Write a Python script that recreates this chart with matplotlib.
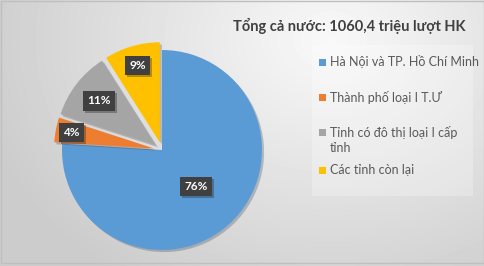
import matplotlib

matplotlib.use("Agg")
import matplotlib.pyplot as plt
import matplotlib.patheffects as pe
import numpy as np
from matplotlib.patches import Rectangle

# Data
categories = [
    "Hà Nội và TP. Hồ Chí Minh",
    "Thành phố loại I T.Ư",
    "Tỉnh có đô thị loại I cấp\ntỉnh",
    "Các tỉnh còn lại",
]
shares = [76, 4, 11, 9]
title = "Tổng cả nước: 1060,4 triệu lượt HK"

colors = ["#5B9BD5", "#ED7D31", "#A5A5A5", "#FFC000"]
explode = [0.0, 0.08, 0.08, 0.08]
label_dist = [0.5, 0.84, 0.72, 0.8]

plt.rcParams["font.family"] = ["Lato", "DejaVu Sans"]

W, H = 485, 266
fig = plt.figure(figsize=(W / 100, H / 100), dpi=100)

# background with soft gradient
bg = fig.add_axes([0, 0, 1, 1])
yy, xx = np.mgrid[0:H, 0:W]
d = np.sqrt(((xx - 330) / 330.0) ** 2 + ((yy - 40) / 260.0) ** 2)
shade = np.clip(0.975 - 0.16 * d, 0.8, 0.975)
bg.imshow(shade, cmap="gray", vmin=0, vmax=1, extent=[0, W, H, 0], aspect="auto")
bg.add_patch(Rectangle((312, 45), 161, 151, facecolor="white", alpha=0.25, lw=0))
bg.add_patch(Rectangle((0.5, 0.5), W - 1.5, H - 3.5, fill=False, edgecolor="#BFBFBF", lw=1))
bg.set_xlim(0, W)
bg.set_ylim(H, 0)
bg.axis("off")

# pie
cx, cy, r = 162, 150, 100
ax = fig.add_axes([(cx - r) / W, (H - cy - r) / H, 2 * r / W, 2 * r / H])
wedges, _ = ax.pie(
    shares,
    colors=colors,
    explode=explode,
    startangle=90,
    counterclock=False,
    wedgeprops={"linewidth": 0},
)
for w in wedges:
    w.set_path_effects(
        [pe.SimplePatchShadow(offset=(1.5, -1.5), alpha=0.25), pe.Normal()]
    )
ax.set_xlim(-1, 1)
ax.set_ylim(-1, 1)
ax.set_aspect("equal")
ax.axis("off")

for w, val, ld, ex in zip(wedges, shares, label_dist, explode):
    ang = np.deg2rad((w.theta1 + w.theta2) / 2)
    rr = ld + ex
    t = ax.text(
        rr * np.cos(ang),
        rr * np.sin(ang),
        f"{val}%",
        ha="center",
        va="center",
        color="white",
        fontsize=8.5,
        fontweight="bold",
        bbox={"boxstyle": "square,pad=0.35", "facecolor": "#404040", "edgecolor": "none"},
    )
    t.get_bbox_patch().set_path_effects(
        [pe.SimplePatchShadow(offset=(1.5, -1.5), alpha=0.3), pe.Normal()]
    )

# title
fig.text(233 / W, 1 - 26 / H, title, ha="left", va="center",
         fontsize=10.5, fontweight="bold", color="#404040")

# legend
leg_y = [62, 97, 140, 170]
for lab, col, ly in zip(categories, colors, leg_y):
    first_y = ly - 8 if "\n" in lab else ly
    bg.add_patch(Rectangle((319, first_y - 3.5), 7, 7, facecolor=col, lw=0))
    bg.text(330, ly, lab, ha="left", va="center", fontsize=9,
            color="#595959", linespacing=1.35)

fig.savefig("out.png", dpi=100)
